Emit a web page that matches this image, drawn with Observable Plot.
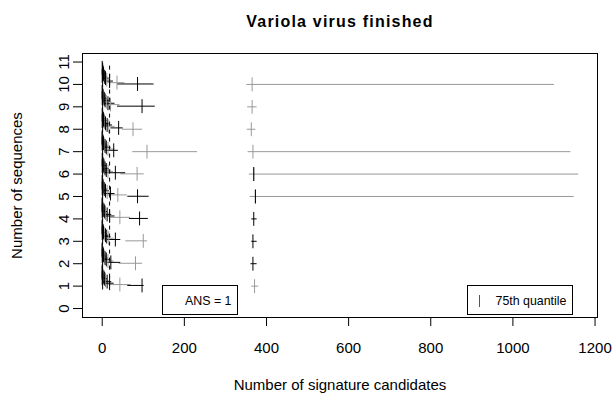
<!DOCTYPE html>
<html><head><meta charset="utf-8">
<script src="https://cdn.jsdelivr.net/npm/d3@7"></script>
<script src="https://cdn.jsdelivr.net/npm/@observablehq/plot@0.6"></script>
<style>body{margin:0;background:#fff;}</style>
</head><body><div id="chart"></div>
<script>
const title = "Variola virus finished";
const xLabel = "Number of signature candidates";
const yLabel = "Number of sequences";
const xTicks = [0, 200, 400, 600, 800, 1000, 1200];
const yTicks = [0, 1, 2, 3, 4, 5, 6, 7, 8, 9, 10, 11];
const legendLabels = ["ANS = 1", "75th quantile"];

// rows: [offset above the sequence count, low, 75th quantile, high, shade]
const seq1 = [
  [0.00, 363, 371, 380, "g"], [0.03, 61, 97, 101, "k"], [0.07, 15, 43, 69, "g"],
  [0.13, 4, 18, 28, "k"], [0.16, 0, 1, 3, "k"], [0.20, 2, 12, 22, "k"], [0.26, 1, 8, 16, "g"],
  [0.33, 0, 6, 12, "k"], [0.36, 0, 0, 2, "k"], [0.39, 0, 4, 9, "k"], [0.46, 0, 2, 6, "g"],
  [0.52, 0, 1, 4, "k"], [0.59, 0, 0, 2, "k"], [0.66, 0, 0, 1, "k"]
];
const seq2 = [
  [0.00, 361, 367, 376, "k"], [0.02, 40, 81, 97, "g"], [0.06, 12, 21, 44, "k"],
  [0.12, 4, 14, 28, "g"], [0.15, 0, 1, 3, "k"], [0.19, 2, 10, 20, "k"], [0.25, 1, 7, 14, "k"],
  [0.32, 0, 5, 11, "g"], [0.35, 0, 0, 2, "k"], [0.38, 0, 3, 8, "k"], [0.45, 0, 2, 5, "k"],
  [0.51, 0, 1, 3, "g"], [0.58, 0, 0, 2, "k"], [0.65, 0, 0, 1, "k"]
];
const seq3 = [
  [0.00, 363, 367, 376, "k"], [0.02, 56, 100, 109, "g"], [0.08, 12, 32, 44, "k"],
  [0.14, 3, 16, 28, "g"], [0.17, 0, 1, 3, "k"], [0.21, 2, 11, 20, "k"], [0.27, 1, 8, 15, "k"],
  [0.34, 0, 5, 11, "g"], [0.37, 0, 0, 2, "k"], [0.40, 0, 3, 8, "k"], [0.47, 0, 2, 5, "k"],
  [0.53, 0, 1, 3, "g"], [0.60, 0, 0, 2, "k"], [0.67, 0, 0, 1, "k"]
];
const seq4 = [
  [0.00, 363, 369, 376, "k"], [0.02, 65, 91, 111, "k"], [0.07, 19, 43, 68, "g"],
  [0.13, 4, 18, 30, "k"], [0.16, 0, 1, 3, "k"], [0.20, 2, 12, 22, "k"], [0.26, 1, 8, 16, "g"],
  [0.33, 0, 6, 12, "k"], [0.36, 0, 0, 2, "k"], [0.39, 0, 4, 9, "k"], [0.46, 0, 2, 6, "g"],
  [0.52, 0, 1, 4, "k"], [0.59, 0, 0, 2, "k"], [0.66, 0, 0, 1, "k"]
];
const seq5 = [
  [0.00, 359, 373, 1148, "g"], [0.00, 372, 373, 374, "k"], [0.01, 61, 86, 113, "k"],
  [0.07, 10, 38, 60, "g"], [0.13, 3, 20, 30, "k"], [0.16, 0, 1, 3, "k"], [0.20, 2, 12, 22, "g"],
  [0.26, 1, 8, 16, "k"], [0.33, 0, 5, 12, "k"], [0.36, 0, 0, 2, "k"], [0.39, 0, 3, 8, "g"],
  [0.46, 0, 2, 6, "k"], [0.52, 0, 1, 4, "k"], [0.59, 0, 0, 2, "g"], [0.66, 0, 0, 1, "k"]
];
const seq6 = [
  [0.00, 357, 369, 1159, "g"], [0.00, 368, 369, 370, "k"], [0.01, 44, 85, 101, "g"],
  [0.06, 3, 32, 56, "k"], [0.12, 2, 14, 26, "g"], [0.15, 0, 1, 3, "k"], [0.18, 1, 10, 20, "k"],
  [0.25, 1, 7, 16, "k"], [0.31, 0, 5, 12, "g"], [0.35, 0, 0, 2, "k"], [0.38, 0, 4, 9, "k"],
  [0.44, 0, 2, 6, "k"], [0.51, 0, 1, 4, "g"], [0.57, 0, 1, 3, "k"], [0.64, 0, 0, 2, "k"]
];
const seq7 = [
  [0.00, 354, 367, 1140, "g"], [0.00, 73, 109, 231, "g"], [0.06, 8, 28, 38, "k"],
  [0.12, 3, 14, 30, "g"], [0.15, 0, 1, 3, "k"], [0.19, 2, 10, 20, "k"], [0.25, 1, 7, 15, "k"],
  [0.32, 0, 5, 12, "g"], [0.35, 0, 0, 2, "k"], [0.38, 0, 3, 8, "k"], [0.45, 0, 2, 6, "k"],
  [0.51, 0, 1, 4, "g"], [0.58, 0, 0, 2, "k"], [0.65, 0, 0, 1, "k"]
];
const seq8 = [
  [0.00, 352, 363, 373, "g"], [0.00, 48, 75, 97, "g"], [0.06, 20, 40, 50, "k"],
  [0.13, 5, 16, 30, "g"], [0.16, 0, 1, 3, "k"], [0.19, 2, 12, 24, "k"], [0.26, 1, 8, 18, "k"],
  [0.32, 0, 6, 14, "g"], [0.36, 0, 0, 2, "k"], [0.39, 0, 4, 10, "k"], [0.45, 0, 3, 8, "k"],
  [0.52, 0, 2, 5, "g"], [0.58, 0, 1, 4, "k"], [0.65, 0, 0, 2, "k"]
];
const seq9 = [
  [0.00, 353, 365, 376, "g"], [0.03, 36, 97, 128, "k"], [0.10, 3, 20, 42, "g"],
  [0.16, 2, 14, 30, "k"], [0.19, 0, 1, 3, "k"], [0.23, 1, 10, 22, "g"], [0.29, 1, 7, 16, "k"],
  [0.36, 0, 5, 12, "k"], [0.39, 0, 0, 2, "k"], [0.42, 0, 3, 9, "g"], [0.49, 0, 2, 6, "k"],
  [0.55, 0, 1, 4, "k"], [0.62, 0, 0, 3, "g"], [0.68, 0, 0, 1, "k"]
];
const seq10 = [
  [0.00, 351, 365, 1100, "g"], [0.02, 36, 86, 125, "k"], [0.08, 12, 36, 54, "g"],
  [0.15, 6, 18, 26, "k"], [0.18, 0, 1, 3, "k"], [0.21, 3, 11, 20, "g"], [0.28, 2, 8, 16, "k"],
  [0.34, 1, 6, 12, "k"], [0.38, 0, 0, 2, "k"], [0.41, 0, 4, 10, "g"], [0.47, 0, 3, 8, "k"],
  [0.54, 0, 2, 6, "k"], [0.60, 0, 1, 5, "g"], [0.67, 0, 1, 3, "k"], [0.74, 0, 0, 2, "k"]
];
const guideX = [18];
const guideSpan = [1, 11];

const groups = [seq1, seq2, seq3, seq4, seq5, seq6, seq7, seq8, seq9, seq10];
const table = groups.flatMap((rows, i) => rows.map(r => ({
  n: i + 1, y: i + 1 + r[0], lo: r[1], q: r[2], hi: r[3], shade: r[4]
})));
const ordered = d3.sort(table, d => (d.shade === "k" ? 1 : 0));

const plot = Plot.plot({
  width: 614, height: 398,
  marginLeft: 82, marginRight: 17, marginTop: 53, marginBottom: 81,
  style: {fontFamily: "'Liberation Sans', Arial, sans-serif", fontSize: "15px", background: "#fff", color: "#000"},
  x: {domain: [-48, 1206]},
  y: {domain: [-0.40, 11.38]},
  color: {domain: ["k", "g"], range: ["#000", "#999"]},
  marks: [
    Plot.link(ordered, {x1: "lo", x2: "hi", y1: "y", y2: "y", stroke: "shade", strokeWidth: 1}),
    Plot.link(ordered, {x1: "q", x2: "q", y1: d => d.y - 0.31, y2: d => d.y + 0.31, stroke: "shade", strokeWidth: 1}),
    Plot.ruleX(guideX, {y1: guideSpan[0], y2: guideSpan[1], stroke: "#000", strokeDasharray: "4,4"}),
    Plot.frame({stroke: "#000"}),
    Plot.axisX({ticks: xTicks, tickSize: 9, tickPadding: 16, tickFormat: d => String(d),
      label: xLabel, labelAnchor: "center", labelArrow: "none", labelOffset: 72}),
    Plot.axisY({ticks: yTicks, tickSize: 9, tickRotate: -90, tickPadding: 5, tickFormat: d => String(d),
      label: yLabel, labelAnchor: "center", labelArrow: "none", labelOffset: 71}),
    Plot.text([title], {frameAnchor: "top", dy: -27, lineAnchor: "bottom", fontWeight: "bold", fontSize: 16})
  ]
});

const svg = d3.select(plot);
svg.selectAll("text").filter(function() { return this.textContent === title; })
  .style("letter-spacing", "1.2px");

const lg = svg.append("g").attr("font-size", 12.4).attr("font-family", "'Liberation Sans', Arial, sans-serif");
lg.append("rect").attr("x", 162.5).attr("y", 285.5).attr("width", 75).attr("height", 29)
  .attr("fill", "#fff").attr("stroke", "#000");
lg.append("text").attr("x", 231.5).attr("y", 305).attr("text-anchor", "end").text(legendLabels[0]);
lg.append("rect").attr("x", 467.5).attr("y", 285.5).attr("width", 105).attr("height", 29)
  .attr("fill", "#fff").attr("stroke", "#000");
lg.append("line").attr("x1", 479.5).attr("x2", 479.5).attr("y1", 295).attr("y2", 307)
  .attr("stroke", "#555").attr("stroke-width", 1);
lg.append("text").attr("x", 495.5).attr("y", 305).attr("text-anchor", "start").text(legendLabels[1]);

document.getElementById("chart").appendChild(plot);
</script>
</body></html>
